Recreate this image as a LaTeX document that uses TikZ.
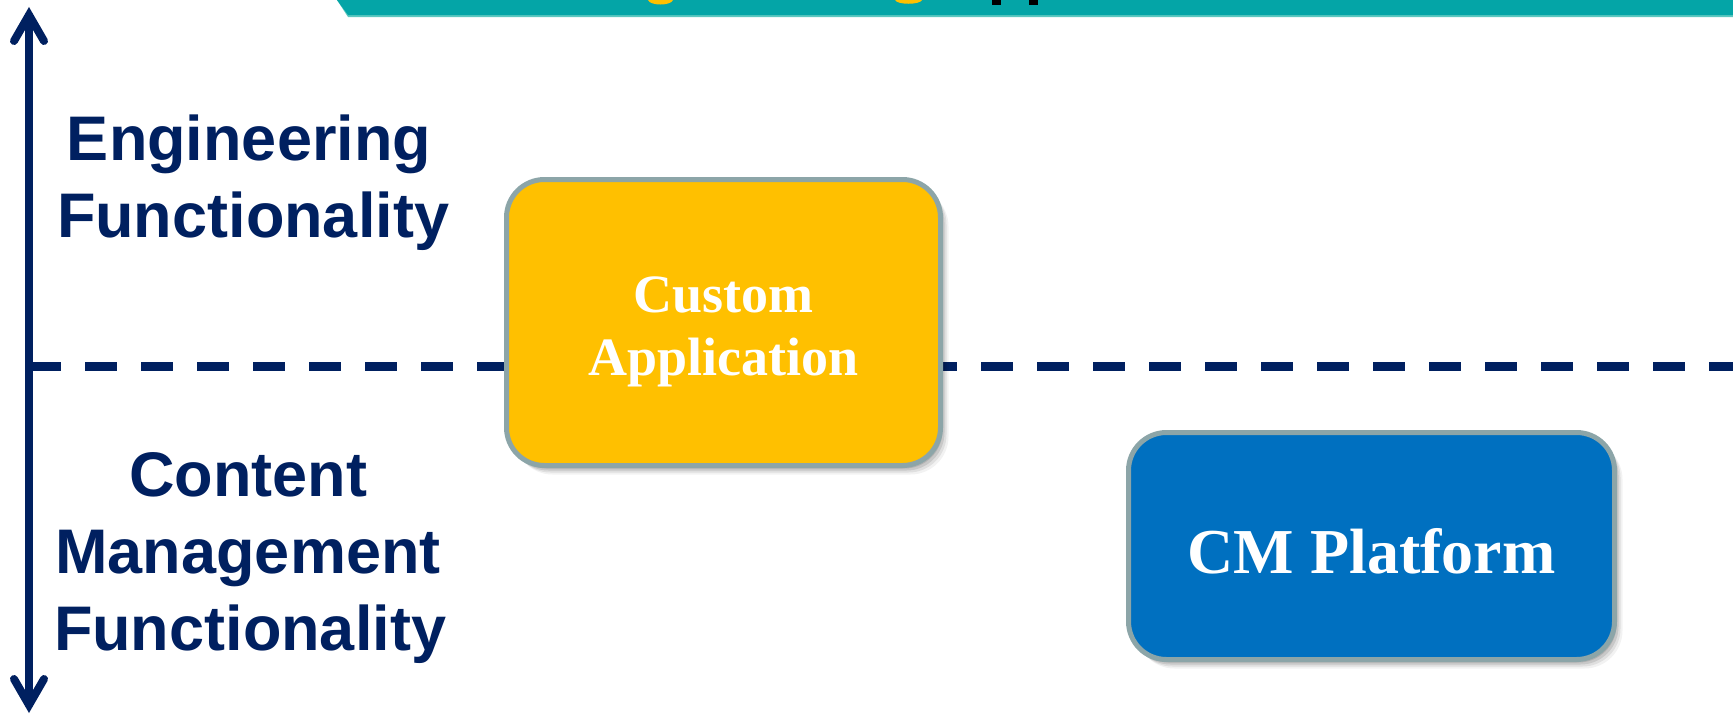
\documentclass[tikz,border=0pt]{standalone}
\usepackage{fontspec}
\setmainfont{Liberation Serif}
\newfontfamily\arialfont{Liberation Sans}
\definecolor{navy}{HTML}{002060}
\definecolor{teal1}{HTML}{04A5A7}
\definecolor{teal2}{HTML}{5CC8C0}
\definecolor{bordergrey}{HTML}{8CA5A8}
\definecolor{gold}{HTML}{FFC000}
\definecolor{cmblue}{HTML}{0070C0}
\tikzset{
  axislabel/.style={anchor=base, inner sep=0pt, text=navy, font=\arialfont\bfseries\fontsize{63}{77}\selectfont},
  appbox/.style={draw=bordergrey, line width=5pt, rounded corners=38pt, text=white, align=center,
     preaction={fill=black, opacity=0.10, transform canvas={xshift=2pt,yshift=-3pt}},
     preaction={fill=black, opacity=0.10, transform canvas={xshift=4pt,yshift=-5pt}},
     preaction={fill=black, opacity=0.08, transform canvas={xshift=6pt,yshift=-7pt}},
     preaction={fill=black, opacity=0.05, transform canvas={xshift=8pt,yshift=-9pt}}},
  axisline/.style={draw=navy, line width=8pt},
  barb/.style={draw=navy, line width=8pt, line cap=round, line join=miter},
  divider/.style={draw=navy, line width=9pt, dash pattern=on 32pt off 24pt}
}
\begin{document}
\begin{tikzpicture}[x=1pt, y=-1pt]
\useasboundingbox (0,0) rectangle (1733,715);
\fill[white] (0,0) rectangle (1733,715);
% top banner (cut off)
\fill[teal2] (337,0) -- (1733,0) -- (1733,17) -- (348,17) -- cycle;
\fill[teal1] (337,0) -- (1733,0) -- (1733,15) -- (348,15) -- cycle;
\fill[gold] (648,0) .. controls (650,6) and (671,6) .. (673,0) -- cycle;
\fill[gold] (895,0) .. controls (897,5) and (920,5) .. (922,0) -- cycle;
\fill[black] (992,0) rectangle (1001,5);
\fill[black] (1029,0) rectangle (1038,5);
% coordinates
\coordinate (axtop) at (29,15);
\coordinate (axbot) at (29,705);
\coordinate (dl) at (29,366);
\coordinate (dr) at (1733,366);
% dashed divider
\draw[divider] (dl) -- (dr);
% vertical axis with arrowheads
\draw[axisline] (axtop) -- (axbot);
\draw[barb] ([xshift=-15pt,yshift=-26pt]axtop) -- (axtop) -- ([xshift=15pt,yshift=-26pt]axtop);
\draw[barb] ([xshift=-15pt,yshift=26pt]axbot) -- (axbot) -- ([xshift=15pt,yshift=26pt]axbot);
% axis labels
\node[axislabel] (eng1) at (249,160) {Engineering};
\node[axislabel] (eng2) at (253,237) {Functionality};
\node[axislabel] (cm1) at (248,496) {Content};
\node[axislabel] (cm2) at (248,573) {Management};
\node[axislabel] (cm3) at (250,650) {Functionality};
% boxes
\node[appbox, fill=gold, minimum width=434pt, minimum height=286pt,
      font=\bfseries\fontsize{54}{63}\selectfont] (custom) at (723.5,322.5)
      {\rule{0pt}{54pt}Custom\\Application};
\node[appbox, fill=cmblue, minimum width=486pt, minimum height=227pt,
      text height=55pt, text depth=0pt,
      font=\bfseries\fontsize{64}{72}\selectfont] (cmp) at (1371.5,546)
      {CM Platform};
\end{tikzpicture}
\end{document}
